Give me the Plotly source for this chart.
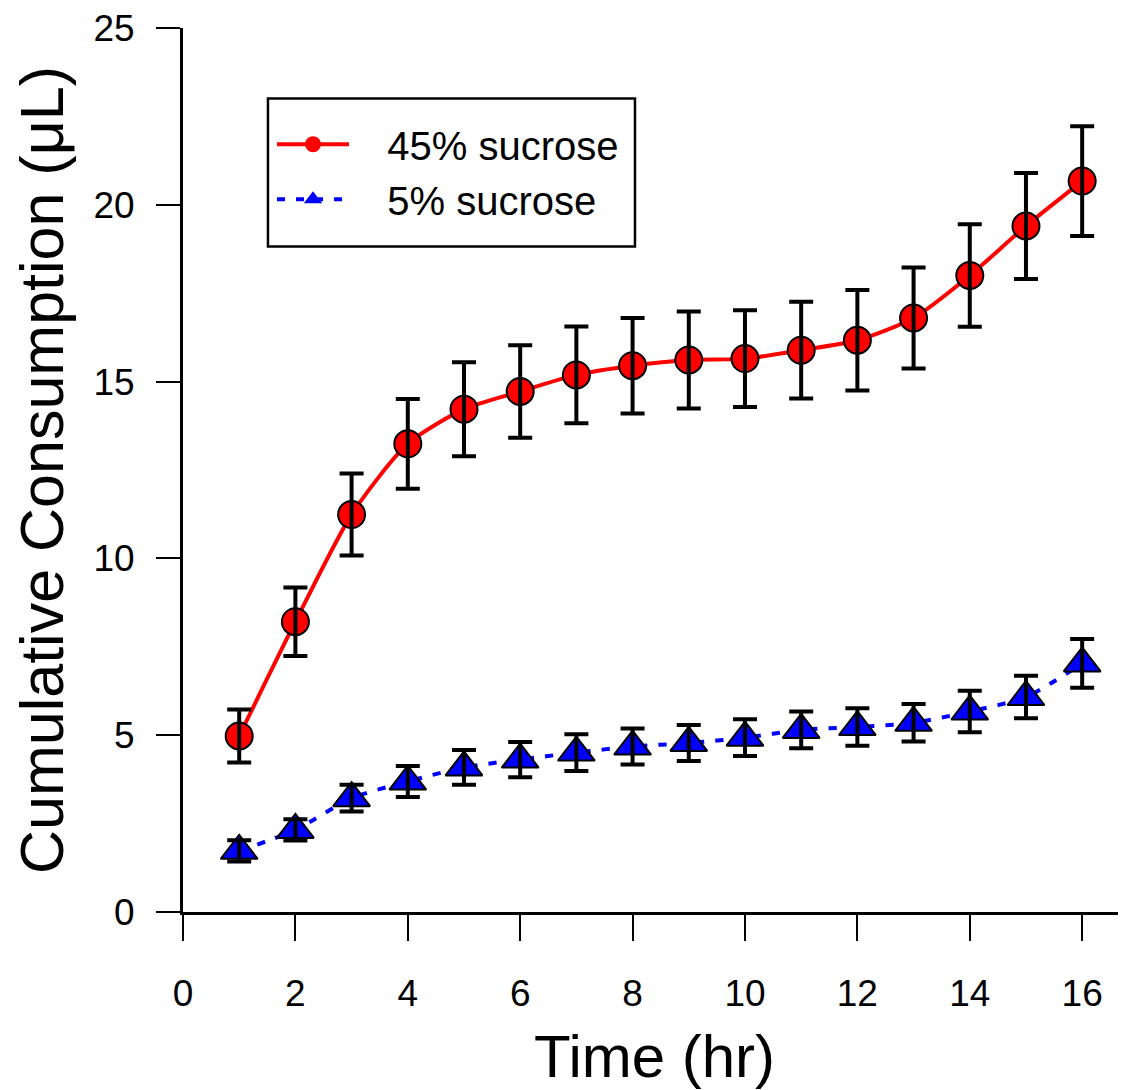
import plotly.graph_objects as go

# time points (hr)
hours = list(range(1, 17))

# 45% sucrose: mean cumulative consumption and error
high_mean = [4.98, 8.21, 11.24, 13.24, 14.22, 14.72, 15.19, 15.45,
             15.61, 15.65, 15.89, 16.17, 16.80, 18.00, 19.40, 20.67]
high_err = [0.75, 0.97, 1.16, 1.27, 1.33, 1.31, 1.37, 1.35,
            1.37, 1.37, 1.37, 1.42, 1.43, 1.45, 1.50, 1.55]

# 5% sucrose
low_mean = [1.73, 2.32, 3.22, 3.69, 4.09, 4.31, 4.51, 4.68,
            4.78, 4.93, 5.15, 5.23, 5.35, 5.67, 6.08, 7.03]
low_err = [0.30, 0.30, 0.38, 0.44, 0.49, 0.50, 0.52, 0.51,
           0.51, 0.52, 0.52, 0.53, 0.53, 0.59, 0.60, 0.69]

FONT = "Arial, Liberation Sans, sans-serif"
PAD = "\u00a0\u00a0\u00a0"  # gap between legend symbol and label

red_line = dict(color="red", width=4, shape="spline", smoothing=0.7)
blue_line = dict(color="blue", width=4, dash="8px,11px", shape="spline", smoothing=0.7)

fig = go.Figure()

fig.add_trace(go.Scatter(
    x=hours, y=high_mean, showlegend=False, mode="lines+markers", line=red_line,
    marker=dict(symbol="circle", size=27, color="red",
                line=dict(color="black", width=2)),
))
fig.add_trace(go.Scatter(
    x=hours, y=low_mean, showlegend=False, mode="lines+markers", line=blue_line,
    marker=dict(symbol="triangle-up", size=32, color="blue",
                line=dict(color="black", width=2)),
))

# error bars drawn on top of the markers
for ys, es in [(high_mean, high_err), (low_mean, low_err)]:
    fig.add_trace(go.Scatter(
        x=hours, y=ys, mode="markers", showlegend=False, hoverinfo="skip",
        marker=dict(size=1, color="rgba(0,0,0,0)"),
        error_y=dict(type="data", array=es, visible=True,
                     color="black", thickness=4, width=12),
    ))

# legend entries (symbols without outline, as in the original key)
fig.add_trace(go.Scatter(
    x=[None], y=[None], name=PAD + "45% sucrose", mode="lines+markers", line=red_line,
    marker=dict(symbol="circle", size=17, color="red"),
))
fig.add_trace(go.Scatter(
    x=[None], y=[None], name=PAD + "5% sucrose", mode="lines+markers", line=blue_line,
    marker=dict(symbol="triangle-up", size=22, color="blue"),
))

# legend frame
fig.add_shape(type="rect", xref="paper", yref="paper",
              x0=0.0901, x1=0.4793, y0=0.7528, y1=0.9202,
              line=dict(color="black", width=2.5), fillcolor="white", layer="below")

fig.update_layout(
    width=1118, height=1082, autosize=False,
    margin=dict(l=175, r=0, t=16, b=176),
    plot_bgcolor="white", paper_bgcolor="white",
    font=dict(family=FONT, color="black", size=37),
    showlegend=True,
    legend=dict(
        x=0.0944, y=0.8374, xanchor="left", yanchor="middle",
        borderwidth=0, bgcolor="rgba(0,0,0,0)",
        font=dict(size=40, family=FONT), itemwidth=72,
    ),
    xaxis=dict(
        range=[0, 16.78], tickmode="linear", tick0=0, dtick=2,
        showline=True, linecolor="black", linewidth=3,
        ticks="outside", ticklen=26, tickwidth=2, tickcolor="black",
        ticklabelstandoff=21, ticklabeloverflow="allow",
        showgrid=False, zeroline=False,
        tickfont=dict(size=37),
        title=dict(text="Time (hr)", font=dict(size=60), standoff=34),
    ),
    yaxis=dict(
        range=[0, 25], tickmode="linear", tick0=0, dtick=5,
        showline=True, linecolor="black", linewidth=3,
        ticks="outside", ticklen=24, tickwidth=2, tickcolor="black",
        ticklabelstandoff=14, ticklabeloverflow="allow",
        showgrid=False, zeroline=False,
        tickfont=dict(size=37),
        title=dict(text="Cumulative Consumption (μL)", font=dict(size=61), standoff=27),
    ),
)

fig.write_html("out.html")
